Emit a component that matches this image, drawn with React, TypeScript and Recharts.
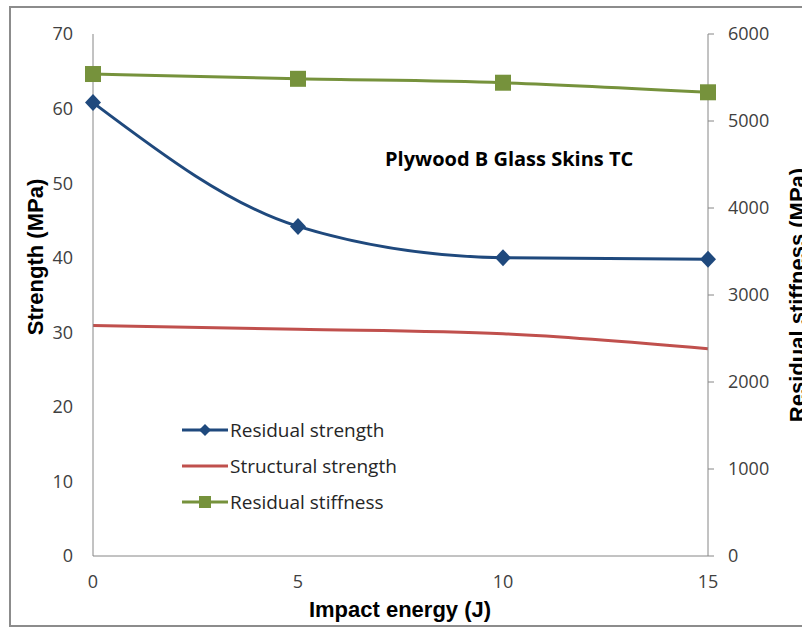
import React from 'react';
import { LineChart, Line, XAxis, YAxis, Legend, Customized } from 'recharts';

const energy = [0, 5, 10, 15];
const residualStrength = [60.8, 44.2, 40.0, 39.8];
const structuralStrength = [30.9, 30.4, 29.8, 27.8];
const residualStiffness = [5540, 5485, 5440, 5330];
const leftTicks = [0, 10, 20, 30, 40, 50, 60, 70];
const rightTicks = [0, 1000, 2000, 3000, 4000, 5000, 6000];
const xTicks = [0, 5, 10, 15];

const rows = energy.map((e, i) => ({
  energy: e,
  residualStrength: residualStrength[i],
  structuralStrength: structuralStrength[i],
  residualStiffness: residualStiffness[i],
}));

const BLUE = '#1F497D';
const RED = '#C0504D';
const GREEN = '#76923C';
const AXIS = '#868686';
const TICKC = '#404040';
const FONT = '"Open Sans", sans-serif';
const BOLD = '"Liberation Sans", Arial, sans-serif';

const Diamond = (props: any) => {
  const { cx, cy, index } = props;
  if (cx == null || cy == null) return <g key={index} />;
  return (
    <polygon
      key={index}
      points={`${cx},${cy - 8.5} ${cx + 8},${cy} ${cx},${cy + 8.5} ${cx - 8},${cy}`}
      fill={BLUE}
    />
  );
};

const Square = (props: any) => {
  const { cx, cy, index } = props;
  if (cx == null || cy == null) return <g key={index} />;
  return <rect key={index} x={cx - 8} y={cy - 8} width={16} height={16} fill={GREEN} />;
};

const legendItems = [
  { key: 'residualStrength', name: 'Residual strength', color: BLUE, marker: 'diamond' },
  { key: 'structuralStrength', name: 'Structural strength', color: RED, marker: 'none' },
  { key: 'residualStiffness', name: 'Residual stiffness', color: GREEN, marker: 'square' },
];

const LegendContent = (props: any) => {
  const payload = [...(props.payload || [])].sort(
    (a: any, b: any) =>
      legendItems.findIndex((l) => l.name === a.value) - legendItems.findIndex((l) => l.name === b.value)
  );
  return (
    <div>
      {payload.map((p: any, i: number) => {
        const item = legendItems.find((l) => l.name === p.value) || legendItems[i];
        return (
          <div key={i} style={{ display: 'flex', alignItems: 'center', height: 36 }}>
            <svg width={48} height={20} style={{ display: 'block' }}>
              <line x1={2} y1={10} x2={48} y2={10} stroke={p.color} strokeWidth={3} />
              {item.marker === 'diamond' && <polygon points="25,4 31,10 25,16 19,10" fill={p.color} />}
              {item.marker === 'square' && <rect x={19} y={4} width={12} height={12} fill={p.color} />}
            </svg>
            <span
              style={{ fontFamily: FONT, fontSize: 19, color: '#262626', marginLeft: 2, whiteSpace: 'nowrap' }}
            >
              {p.value}
            </span>
          </div>
        );
      })}
    </div>
  );
};

const Titles = () => (
  <g>
    <text x={385} y={158} fontFamily={FONT} fontWeight={700} fontSize={20} fill="#000" dominantBaseline="central">
      Plywood B Glass Skins TC
    </text>
    <text
      x={400}
      y={609}
      fontFamily={BOLD}
      fontWeight={700}
      fontSize={22}
      fill="#000"
      textAnchor="middle"
      dominantBaseline="central"
    >
      Impact energy (J)
    </text>
    <text
      x={35}
      y={257}
      fontFamily={BOLD}
      fontWeight={700}
      fontSize={22}
      fill="#000"
      textAnchor="middle"
      dominantBaseline="central"
      transform="rotate(-90 35 257)"
    >
      Strength (MPa)
    </text>
    <text
      x={797}
      y={295}
      fontFamily={BOLD}
      fontWeight={700}
      fontSize={22}
      fill="#000"
      textAnchor="middle"
      dominantBaseline="central"
      transform="rotate(-90 797 295)"
    >
      Residual stiffness (MPa)
    </text>
  </g>
);

export default function App() {
  return (
    <div
      style={{ position: 'absolute', left: 0, top: 0, width: 802, height: 628, overflow: 'hidden', background: '#fff' }}
    >
      <div
        style={{
          position: 'absolute',
          left: 9,
          top: 6,
          width: 810,
          height: 621,
          border: '2px solid #8c8c8c',
          boxSizing: 'border-box',
        }}
      />
      <div style={{ position: 'absolute', left: 0, top: 0 }}>
        <LineChart width={802} height={628} data={rows} margin={{ top: 34, right: 0, left: 0, bottom: 0 }}>
          <XAxis
            dataKey="energy"
            type="number"
            domain={[0, 15]}
            ticks={xTicks}
            height={72}
            tickSize={0}
            tickMargin={19}
            axisLine={{ stroke: AXIS, strokeWidth: 1 }}
            tickLine={false}
            tick={{ fill: TICKC, fontSize: 18, fontFamily: FONT }}
          />
          <YAxis
            yAxisId="left"
            domain={[0, 70]}
            ticks={leftTicks}
            width={93}
            tickSize={0}
            tickMargin={20}
            axisLine={{ stroke: AXIS, strokeWidth: 1 }}
            tickLine={false}
            tick={{ fill: TICKC, fontSize: 18, fontFamily: FONT }}
          />
          <YAxis
            yAxisId="right"
            orientation="right"
            domain={[0, 6000]}
            ticks={rightTicks}
            width={94}
            tickSize={6}
            tickMargin={14}
            axisLine={{ stroke: AXIS, strokeWidth: 1 }}
            tickLine={{ stroke: AXIS, strokeWidth: 1 }}
            tick={{ fill: TICKC, fontSize: 18, fontFamily: FONT, textAnchor: 'start' }}
          />
          <Line
            yAxisId="left"
            type="monotone"
            dataKey="structuralStrength"
            name="Structural strength"
            stroke={RED}
            strokeWidth={3}
            dot={false}
            isAnimationActive={false}
          />
          <Line
            yAxisId="right"
            type="monotone"
            dataKey="residualStiffness"
            name="Residual stiffness"
            stroke={GREEN}
            strokeWidth={3}
            dot={Square}
            isAnimationActive={false}
          />
          <Line
            yAxisId="left"
            type="monotone"
            dataKey="residualStrength"
            name="Residual strength"
            stroke={BLUE}
            strokeWidth={3}
            dot={Diamond}
            isAnimationActive={false}
          />
          <Legend
            content={LegendContent}
            layout="horizontal"
            verticalAlign="middle"
            align="center"
            wrapperStyle={{ position: 'absolute', left: 180, top: 412, width: 260, bottom: 'auto', right: 'auto' }}
          />
          <Customized component={Titles} />
        </LineChart>
      </div>
    </div>
  );
}
